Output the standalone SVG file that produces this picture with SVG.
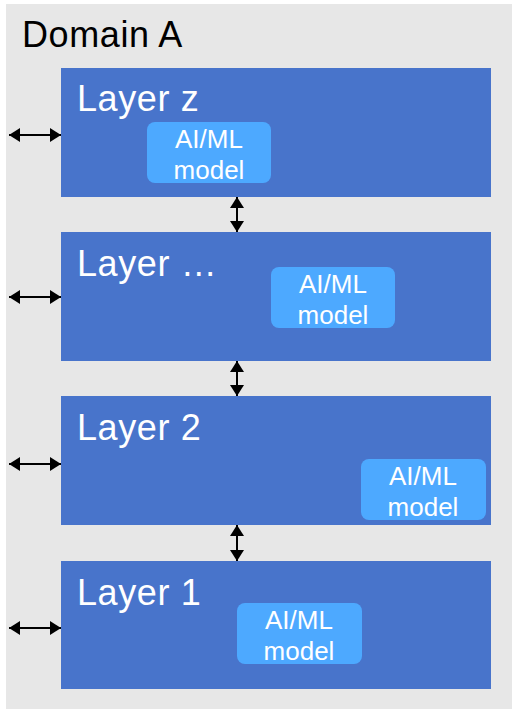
<svg xmlns="http://www.w3.org/2000/svg" width="512" height="714" viewBox="0 0 512 714">
<style>
.layer{fill:#4874CB}
.model{fill:#4DA9FF}
.lt{font-family:"Liberation Sans",Arial,sans-serif;font-size:36px;letter-spacing:0.6px;fill:#fff}
.mt{font-family:"Liberation Sans",Arial,sans-serif;font-size:26px;fill:#fff;text-anchor:middle}
.conn{stroke:#000;stroke-width:2;fill:none;marker-start:url(#ah);marker-end:url(#ah)}
</style>
<defs>
<marker id="ah" markerUnits="userSpaceOnUse" viewBox="0 0 11 14" refX="11" refY="7" markerWidth="11" markerHeight="14" orient="auto-start-reverse">
<path d="M0,0 L11,7 L0,14 Z" fill="#000"/>
</marker>
</defs>
<rect x="6" y="4" width="506" height="705" fill="#E7E7E7"/>
<text x="22" y="47" font-family="Liberation Sans,Arial,sans-serif" font-size="36" letter-spacing="0.6" fill="#000">Domain A</text>
<g id="layer-z">
<rect class="layer" x="61" y="68" width="430" height="129"/>
<text class="lt" x="77" y="111">Layer z</text>
<rect class="model" x="147" y="122" width="124" height="61" rx="8"/>
<text class="mt" x="209" y="148">AI/ML</text>
<text class="mt" x="209" y="179">model</text>
</g>
<g id="layer-dots">
<rect class="layer" x="61" y="232" width="430" height="129"/>
<text class="lt" x="77" y="276">Layer …</text>
<rect class="model" x="271" y="267" width="124" height="61" rx="8"/>
<text class="mt" x="333" y="293">AI/ML</text>
<text class="mt" x="333" y="324">model</text>
</g>
<g id="layer-2">
<rect class="layer" x="61" y="396" width="430" height="129"/>
<text class="lt" x="77" y="440">Layer 2</text>
<rect class="model" x="361" y="459" width="125" height="61" rx="8"/>
<text class="mt" x="423" y="485">AI/ML</text>
<text class="mt" x="423" y="516">model</text>
</g>
<g id="layer-1">
<rect class="layer" x="61" y="561" width="430" height="128"/>
<text class="lt" x="77" y="605">Layer 1</text>
<rect class="model" x="237" y="603" width="125" height="61" rx="8"/>
<text class="mt" x="299" y="629">AI/ML</text>
<text class="mt" x="299" y="660">model</text>
</g>
<g id="connectors">
<path class="conn" d="M9,135 H61"/>
<path class="conn" d="M9,297 H61"/>
<path class="conn" d="M9,464 H61"/>
<path class="conn" d="M9,628 H61"/>
<path class="conn" d="M237,197 V232"/>
<path class="conn" d="M237,361 V396"/>
<path class="conn" d="M237,525 V561"/>
</g>
</svg>
